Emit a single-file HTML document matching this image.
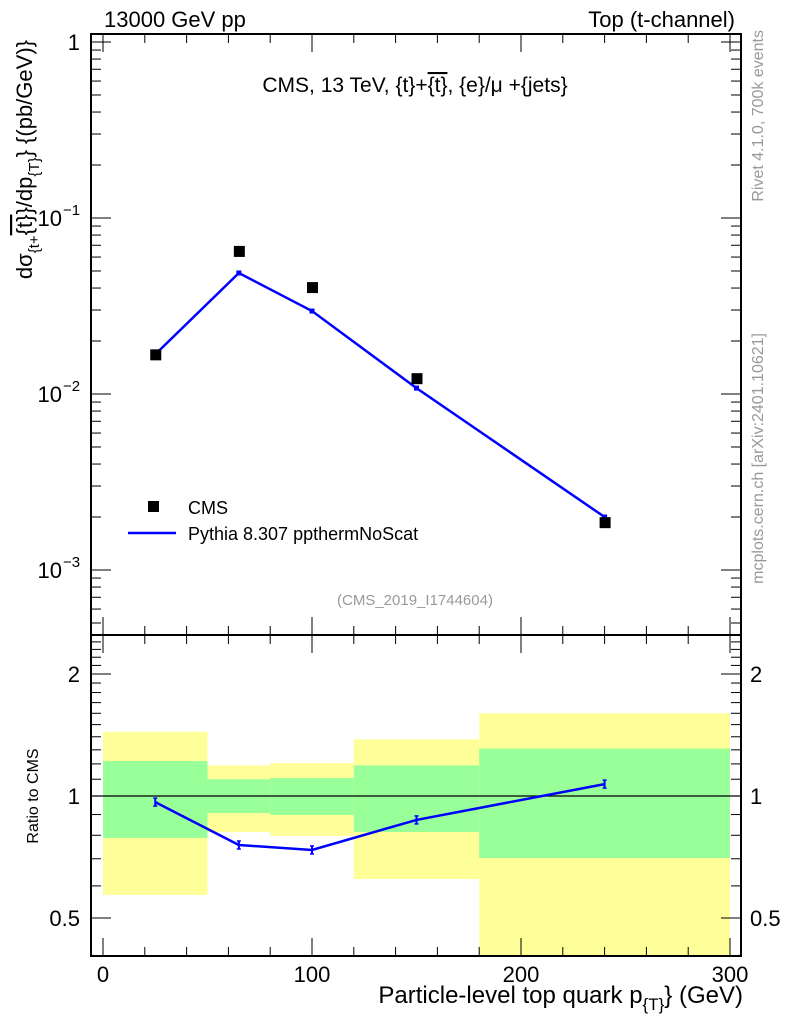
<!DOCTYPE html>
<html><head><meta charset="utf-8"><style>
body{margin:0;background:#fff;}
svg text{font-family:"Liberation Sans",sans-serif;}
</style></head><body>
<svg id="c" width="786" height="1024" xmlns="http://www.w3.org/2000/svg"></svg>
<script>
const xCats=[25,65,100,150,240];
const cmsVals=[0.0168,0.065,0.0405,0.0123,0.00187];
const pyVals=[0.0168,0.0487,0.0296,0.0108,0.0020];
const ratioVals=[0.966,0.757,0.736,0.873,1.07];
const binEdges=[0,50,80,120,180,300];
const yelTop=[1.44,1.19,1.206,1.38,1.60];
const yelBot=[0.57,0.815,0.797,0.624,0.35];
const grnTop=[1.22,1.10,1.108,1.19,1.31];
const grnBot=[0.788,0.908,0.898,0.815,0.703];
const xTicks=[0,100,200,300];
const mainTickLabels=["1","10","10","10"];
const mainTickExp=["","−1","−2","−3"];
const ratioTicks=[0.5,1,2];

const S=document.getElementById('c');const NS='http://www.w3.org/2000/svg';
function el(t,a,p){const e=document.createElementNS(NS,t);for(const k in a)e.setAttribute(k,a[k]);(p||S).appendChild(e);return e;}
const L=91,R=741,T=34,M=635,B=956;
const X=v=>103+v*(730-103)/300;
const Y=v=>42-Math.log10(v)*176;
const YR=v=>796-Math.log2(v)*122;
const clipR=v=>Math.max(M,Math.min(B,v));

for(let i=0;i<5;i++){
 let r=el('rect',{x:X(binEdges[i]),y:clipR(YR(yelTop[i])),width:X(binEdges[i+1])-X(binEdges[i]),height:clipR(YR(yelBot[i]))-clipR(YR(yelTop[i])),fill:'#ffff99'});
 
 let g=el('rect',{x:X(binEdges[i]),y:YR(grnTop[i]),width:X(binEdges[i+1])-X(binEdges[i]),height:YR(grnBot[i])-YR(grnTop[i]),fill:'#99ff99'});
 
}
let ref=el('line',{x1:L,x2:R,y1:YR(1),y2:YR(1),stroke:'#000','stroke-width':1.3});


let f1=el('rect',{x:L,y:T,width:R-L,height:M-T,fill:'none',stroke:'#000','stroke-width':2});

let f2=el('rect',{x:L,y:M,width:R-L,height:B-M,fill:'none',stroke:'#000','stroke-width':2});


for(let v=0;v<=300;v+=20){
 const big=v%100===0,len=big?18:9;
 [[T,1],[M,1],[M,-1],[B,-1]].forEach(([y0,d])=>{el('line',{x1:X(v),x2:X(v),y1:y0,y2:y0+d*len,stroke:'#000','stroke-width':1});});
}
xTicks.forEach(v=>{let t=el('text',{x:X(v),y:982,'font-size':22,'text-anchor':'middle'});t.textContent=v;
 });

for(let e=1;e>=-4;e--){for(let m=1;m<10;m++){const v=m*Math.pow(10,e-1);const y=Y(v);if(y<T||y>M)continue;const len=m===1?20:10;
 el('line',{x1:L,x2:L+len,y1:y,y2:y,stroke:'#000'});el('line',{x1:R,x2:R-len,y1:y,y2:y,stroke:'#000'});}}
[1,0.1,0.01,0.001].forEach((v,i)=>{let t=el('text',{x:i===0?80:62,y:Y(v)+8,'font-size':22,'text-anchor':'end'});t.textContent=mainTickLabels[i];
 
 if(i>0){let s=el('text',{x:63,y:Y(v)-3,'font-size':15});s.textContent=mainTickExp[i];}});

for(let v=0.4;v<=2.5;v+=0.1){const y=YR(v);if(y<M||y>B)continue;const big=[0.5,1,2].some(k=>Math.abs(k-v)<1e-6);const len=big?20:10;
 el('line',{x1:L,x2:L+len,y1:y,y2:y,stroke:'#000'});el('line',{x1:R,x2:R-len,y1:y,y2:y,stroke:'#000'});}
ratioTicks.forEach(v=>{[[80,'end'],[750,'start']].forEach(([x,a])=>{let t=el('text',{x:x,y:YR(v)+8,'font-size':22,'text-anchor':a});t.textContent=v===0.5?'0.5':v;
 });});

let pts=xCats.map((x,i)=>X(x)+','+Y(pyVals[i])).join(' ');
let pl=el('polyline',{points:pts,fill:'none',stroke:'#0000ff','stroke-width':2.5});

xCats.forEach((x,i)=>{let m=el('rect',{x:X(x)-2.5,y:Y(pyVals[i])-2.5,width:5,height:5,fill:'#0000ff'});
 });
xCats.forEach((x,i)=>{let c=el('rect',{x:X(x)-5,y:Y(cmsVals[i])-5,width:11,height:11,fill:'#000'});
 });
let rp=xCats.map((x,i)=>X(x)+','+YR(ratioVals[i])).join(' ');
let rl=el('polyline',{points:rp,fill:'none',stroke:'#0000ff','stroke-width':2.5});

xCats.forEach((x,i)=>{el('line',{x1:X(x),x2:X(x),y1:YR(ratioVals[i])-4,y2:YR(ratioVals[i])+4,stroke:'#0000ff','stroke-width':2});
 el('line',{x1:X(x)-2,x2:X(x)+2,y1:YR(ratioVals[i])-4,y2:YR(ratioVals[i])-4,stroke:'#0000ff','stroke-width':1.5});
 el('line',{x1:X(x)-2,x2:X(x)+2,y1:YR(ratioVals[i])+4,y2:YR(ratioVals[i])+4,stroke:'#0000ff','stroke-width':1.5});});

function txt(x,y,s,o,name){let t=el('text',Object.assign({x:x,y:y},o));t.innerHTML=s;return t;}
txt(104,27,'13000 GeV pp',{'font-size':22},'energy-label');
txt(735,27,'Top (t-channel)',{'font-size':22,'text-anchor':'end'},'process-label');
txt(415,92,'CMS, 13 TeV, {t}+<tspan text-decoration="overline">{t}</tspan>, {e}/μ +{jets}',{'font-size':21,'text-anchor':'middle'},'plot-title');
txt(415,605,'(CMS_2019_I1744604)',{'font-size':15,'text-anchor':'middle',fill:'#999'},'analysis-id');
let lg1=el('rect',{x:148,y:501,width:11,height:11,fill:'#000'});
txt(188,514,'CMS',{'font-size':18},'legend-cms');
let lg2=el('line',{x1:128,x2:176,y1:533,y2:533,stroke:'#0000ff','stroke-width':2.5});
txt(188,540,'Pythia 8.307 ppthermNoScat',{'font-size':18},'legend-pythia');
txt(743,1003,'Particle-level top quark p<tspan font-size="17" dy="7">{T}</tspan><tspan dy="-7">} (GeV)</tspan>',{'font-size':24,'text-anchor':'end'},'x-axis-title');
txt(0,0,'dσ<tspan font-size="15" dy="7">{t+</tspan><tspan dy="-7" text-decoration="overline">{t}</tspan>}/dp<tspan font-size="15" dy="7">{T}</tspan><tspan dy="-7">}  {(pb/GeV)}</tspan>',{'font-size':22,'text-anchor':'end',transform:'translate(32,40) rotate(-90)'},'y-axis-title');
txt(0,0,'Ratio to CMS',{'font-size':16,'text-anchor':'middle',transform:'translate(38,796) rotate(-90)'},'ratio-axis-title');
txt(0,0,'Rivet 4.1.0,  700k events',{'font-size':16,'text-anchor':'end',fill:'#999',transform:'translate(763,30) rotate(-90)'},'rivet-label');
txt(0,0,'mcplots.cern.ch [arXiv:2401.10621]',{'font-size':16,'text-anchor':'end',fill:'#999',transform:'translate(763,333) rotate(-90)'},'mcplots-label');
</script>
</body></html>
